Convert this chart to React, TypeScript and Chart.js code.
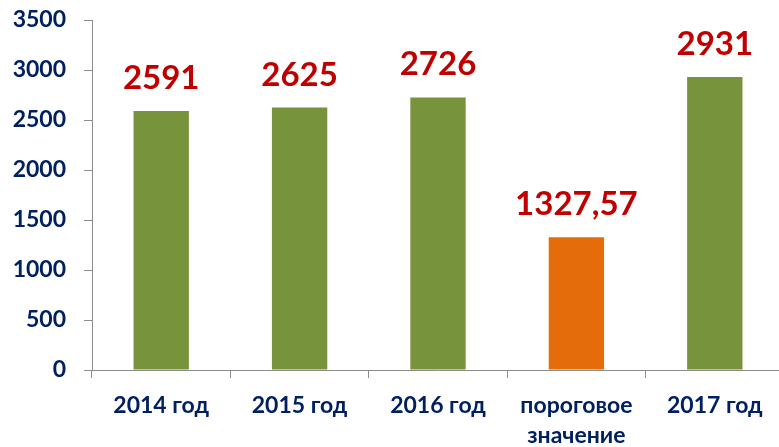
import React, { useEffect, useRef } from "react";
import { Chart, registerables } from "chart.js";

Chart.register(...registerables);

const categories: (string | string[])[] = ["2014 год", "2015 год", "2016 год", ["пороговое", "значение"], "2017 год"];
const values: number[] = [2591, 2625, 2726, 1327.57, 2931];
const valueLabels: string[] = ["2591", "2625", "2726", "1327,57", "2931"];
const barColors: string[] = ["#77933C", "#77933C", "#77933C", "#E46C0A", "#77933C"];
const yMin = 0;
const yMax = 3500;
const yStep = 500;

const FONT = "Lato";
const NAVY = "#002060";
const AXIS = "#8c8c8c";

const labelPlugin = {
  id: "valueLabels",
  afterDatasetsDraw(chart: any) {
    const ctx = chart.ctx;
    const meta = chart.getDatasetMeta(0);
    ctx.save();
    ctx.font = `bold 33px ${FONT}`;
    ctx.fillStyle = "#C00000";
    ctx.textAlign = "center";
    ctx.textBaseline = "alphabetic";
    meta.data.forEach((bar: any, i: number) => {
      ctx.fillText(valueLabels[i], bar.x, bar.y - 22);
    });
    ctx.restore();
  },
};

export default function App() {
  const ref = useRef<HTMLCanvasElement>(null);
  useEffect(() => {
    if (!ref.current) return;
    const chart = new Chart(ref.current, {
      type: "bar",
      data: {
        labels: categories,
        datasets: [
          {
            data: values,
            backgroundColor: barColors,
            barPercentage: 0.4,
            categoryPercentage: 1,
          },
        ],
      },
      options: {
        responsive: false,
        animation: false,
        devicePixelRatio: 1,
        layout: { padding: { top: 20, right: 0, left: 0, bottom: 0 } },
        plugins: { legend: { display: false }, tooltip: { enabled: false } },
        scales: {
          x: {
            offset: true,
            grid: {
              offset: true,
              drawOnChartArea: false,
              drawTicks: true,
              tickLength: 8,
              color: AXIS,
            },
            border: { color: AXIS, width: 1 },
            ticks: {
              color: NAVY,
              font: { family: FONT, weight: "bold", size: 23, lineHeight: 1.3 },
              padding: 13,
              maxRotation: 0,
              autoSkip: false,
            },
            afterFit: (s: any) => {
              s.height = 77;
              s.paddingLeft = 0;
              s.paddingRight = 0;
            },
          },
          y: {
            min: yMin,
            max: yMax,
            ticks: {
              stepSize: yStep,
              color: NAVY,
              font: { family: FONT, weight: "bold", size: 23 },
              padding: 18,
              callback: (v: any) => String(v),
            },
            grid: {
              drawOnChartArea: false,
              drawTicks: true,
              tickLength: 8,
              color: AXIS,
            },
            border: { color: AXIS, width: 1 },
            afterFit: (s: any) => {
              s.width = 92;
              s.paddingTop = 0;
              s.paddingBottom = 0;
            },
          },
        },
      },
      plugins: [labelPlugin],
    });
    return () => chart.destroy();
  }, []);
  return (
    <div style={{ position: "fixed", left: 0, top: 0, width: 779, height: 447, overflow: "hidden", background: "#fff" }}>
      <canvas ref={ref} width={784} height={447} style={{ display: "block" }} />
    </div>
  );
}
